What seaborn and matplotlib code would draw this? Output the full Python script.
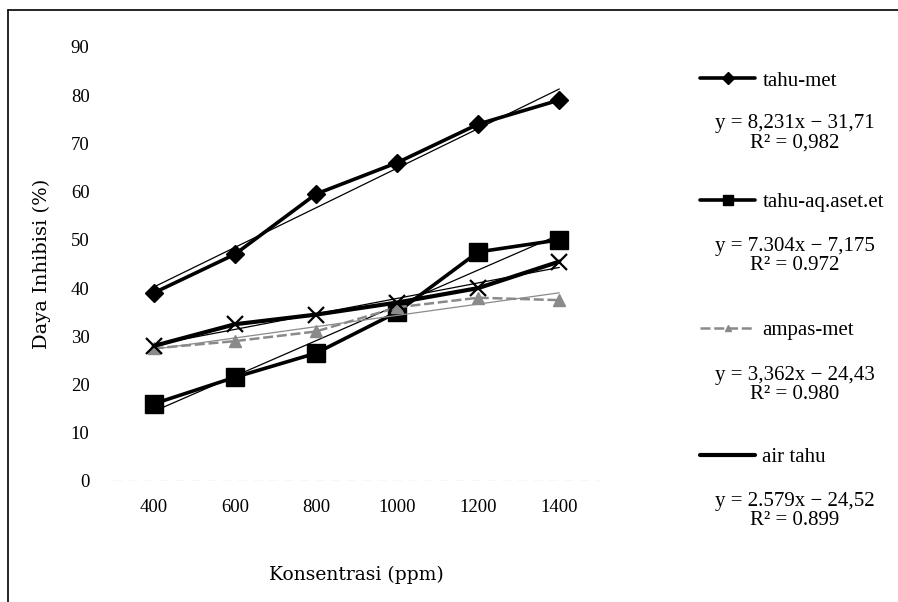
import numpy as np
import pandas as pd
import matplotlib
matplotlib.use("Agg")
import matplotlib.pyplot as plt
import seaborn as sns
from matplotlib.lines import Line2D

# data
konsentrasi = [400, 600, 800, 1000, 1200, 1400]
tahu_met = [39, 47, 59.5, 66, 74, 79]
tahu_aq = [16, 21.5, 26.5, 35, 47.5, 50]
ampas_met = [27.5, 29, 31, 36, 38, 37.5]
air_tahu = [28, 32.5, 34.5, 37, 40, 45.5]

series_names = ["tahu-met", "tahu-aq.aset.et", "ampas-met", "air tahu"]
equations = ["y = 8,231x \u2212 31,71\nR\u00b2 = 0,982",
             "y = 7.304x \u2212 7,175\nR\u00b2 = 0.972",
             "y = 3,362x \u2212 24,43\nR\u00b2 = 0.980",
             "y = 2.579x \u2212 24,52\nR\u00b2 = 0.899"]
y_ticks = [0, 10, 20, 30, 40, 50, 60, 70, 80, 90]

sns.set_style("white")
plt.rcParams['font.family'] = ['Liberation Serif', 'DejaVu Serif']
plt.rcParams['text.color'] = 'black'
plt.rcParams['xtick.color'] = 'black'
plt.rcParams['ytick.color'] = 'black'
plt.rcParams['axes.labelcolor'] = 'black'

fig = plt.figure(figsize=(8.98, 6.02), dpi=100)
ax = fig.add_axes([0.126, 0.201, 0.542, 0.721])

styles = [
    dict(color="black", marker="D", markersize=9.5, lw=2.6),
    dict(color="black", marker="s", markersize=13, lw=2.6),
    dict(color="#8a8a8a", marker="^", markersize=8, lw=1.8, ls=(0, (4, 1.5))),
    dict(color="black", marker="x", markersize=12, lw=3.0, markeredgewidth=1.6),
]
values = [tahu_met, tahu_aq, ampas_met, air_tahu]

handles = []
for name, vals, st in zip(series_names, values, styles):
    df = pd.DataFrame({"konsentrasi": konsentrasi, "daya": vals})
    # linear trendline (thin)
    sns.regplot(data=df, x="konsentrasi", y="daya", ax=ax, ci=None, scatter=False,
                line_kws=dict(color=st["color"], lw=0.9))
    sns.lineplot(data=df, x="konsentrasi", y="daya", ax=ax, color=st["color"],
                 marker=st["marker"], markersize=st["markersize"], lw=st["lw"],
                 linestyle=st.get("ls", "-"), markeredgecolor=st["color"],
                 markeredgewidth=st.get("markeredgewidth", 1))
    handles.append(Line2D([], [], color=st["color"], lw=st["lw"],
                          linestyle=st.get("ls", "-"),
                          marker=st["marker"] if name != "air tahu" else None,
                          markersize=st["markersize"] * 0.6,
                          markeredgecolor=st["color"]))

ax.axhline(0, color="#777777", lw=0.8, ls=(0, (8, 6)))
ax.set_xlim(300, 1500)
ax.set_ylim(0, 90)
ax.set_xticks(konsentrasi)
ax.set_xticklabels([str(k) for k in konsentrasi])
ax.set_yticks(y_ticks)
ax.tick_params(axis="y", length=0, pad=17, labelsize=13.5)
ax.tick_params(axis="x", length=0, pad=13, labelsize=13.5)
for s in ax.spines.values():
    s.set_visible(False)
ax.set_xlabel("Konsentrasi (ppm)", fontsize=13.5, family=['DejaVu Serif'], labelpad=36)
ax.set_ylabel("Daya Inhibisi (%)", fontsize=14, family=['DejaVu Serif'], labelpad=14)

# legend entries with equations below each
leg_y = [81, 202, 330, 457]
eq_y = [133, 256, 385, 511]
for h, name, ly in zip(handles, series_names, leg_y):
    fig.legend(handles=[h], labels=[name], loc="center left",
               bbox_to_anchor=(700 / 898, 1 - ly / 602), frameon=False,
               handlelength=2.65, handletextpad=0.35, fontsize=15,
               borderaxespad=0, borderpad=0)
for eq, ey in zip(equations, eq_y):
    fig.text(795 / 898, 1 - ey / 602, eq, ha="center", va="center",
             fontsize=15, linespacing=1.05)

# scanned page frame
fig.add_artist(Line2D([8 / 898, 8 / 898], [0, 1 - 10 / 602], color="black", lw=1.2,
                      transform=fig.transFigure))
fig.add_artist(Line2D([8 / 898, 1], [1 - 10 / 602, 1 - 10 / 602], color="black", lw=1.2,
                      transform=fig.transFigure))

fig.savefig("out.png", dpi=100)
